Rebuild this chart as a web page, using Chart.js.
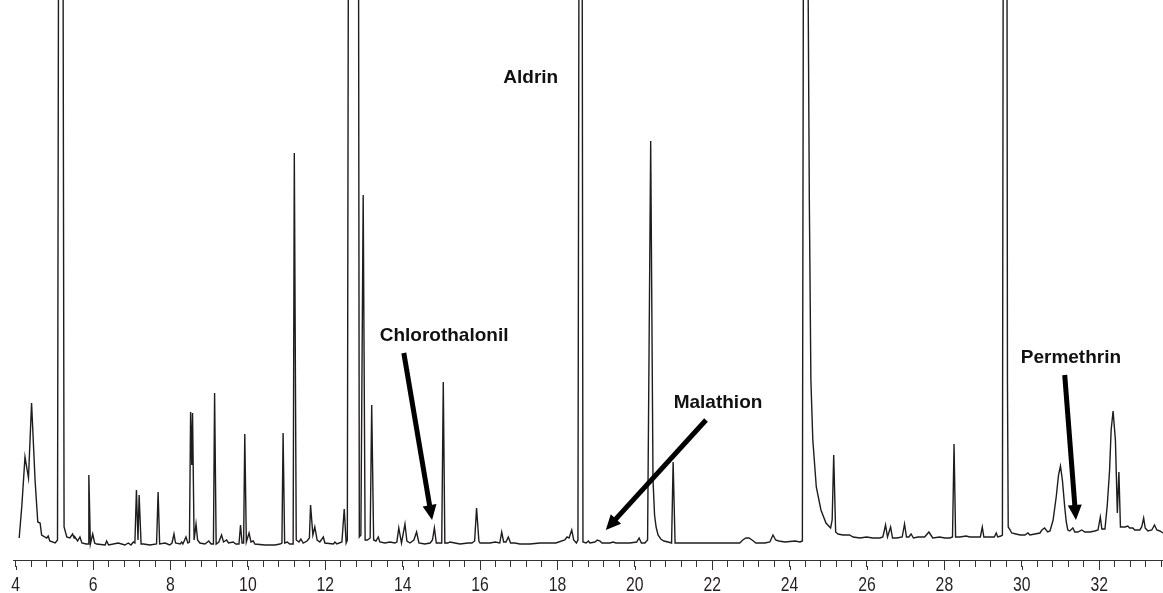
<!DOCTYPE html>
<html>
<head>
<meta charset="utf-8">
<script src="https://cdn.jsdelivr.net/npm/chart.js@4.4.1/dist/chart.umd.min.js"></script>
<style>
  html, body { margin: 0; padding: 0; background: #ffffff; }
  #wrap { width: 1163px; height: 593px; }
</style>
</head>
<body>
<div id="wrap"><canvas id="c" width="1163" height="593"></canvas></div>
<script>
// Retention time (min)
const times = [
  4.09,4.16,4.24,4.33,4.41,4.50,4.57,4.63,4.67,4.80,4.84,4.88,5.02,5.08,5.12,5.21,5.25,5.32,5.40,5.47,
  5.51,5.53,5.60,5.66,5.71,5.82,5.87,5.89,5.93,5.99,6.04,6.09,6.31,6.35,6.40,6.65,6.82,6.91,6.98,7.04,
  7.08,7.12,7.16,7.19,7.24,7.30,7.47,7.64,7.68,7.72,7.86,7.98,8.04,8.09,8.13,8.25,8.29,8.32,8.40,8.45,
  8.49,8.52,8.55,8.57,8.61,8.66,8.70,8.76,8.89,8.99,9.05,9.11,9.14,9.18,9.25,9.32,9.37,9.45,9.50,9.62,
  9.69,9.77,9.81,9.85,9.89,9.92,9.96,10.03,10.08,10.14,10.18,10.44,10.70,10.83,10.88,10.91,10.95,11.02,11.08,11.17,
  11.20,11.25,11.32,11.37,11.43,11.53,11.59,11.62,11.68,11.73,11.79,11.86,11.95,11.99,12.21,12.25,12.30,12.43,12.49,12.54,
  12.57,12.61,12.85,12.88,12.92,12.98,13.03,13.09,13.16,13.20,13.25,13.31,13.37,13.41,13.54,13.67,13.80,13.85,13.90,13.97,
  14.06,14.11,14.19,14.29,14.36,14.42,14.57,14.71,14.77,14.82,14.87,14.96,15.01,15.05,15.09,15.17,15.22,15.35,15.48,15.69,
  15.79,15.86,15.91,15.97,16.00,16.26,16.39,16.51,16.56,16.61,16.67,16.73,16.79,16.90,17.03,17.29,17.55,17.81,17.96,18.19,
  18.25,18.30,18.37,18.42,18.49,18.53,18.57,18.63,18.66,18.74,18.80,18.84,18.97,19.03,19.10,19.15,19.36,19.44,19.51,19.62,
  19.87,20.05,20.11,20.17,20.26,20.33,20.41,20.47,20.51,20.55,20.60,20.67,20.75,20.86,20.95,20.99,21.04,21.17,21.42,21.68,
  22.19,22.71,22.79,22.87,22.95,23.03,23.13,23.36,23.49,23.57,23.64,23.72,23.88,24.14,24.27,24.33,24.37,24.43,24.475,24.51,
  24.55,24.60,24.69,24.81,24.94,25.06,25.10,25.14,25.19,25.25,25.38,25.55,25.64,25.82,25.99,26.15,26.33,26.41,26.48,26.53,
  26.61,26.66,26.77,26.91,26.97,27.02,27.08,27.14,27.20,27.32,27.49,27.60,27.70,27.88,28.01,28.14,28.21,28.25,28.29,28.40,
  28.56,28.66,28.81,28.93,28.98,29.02,29.18,29.29,29.34,29.38,29.46,29.50,29.53,29.61,29.63,29.65,29.70,29.74,29.85,29.96,
  30.08,30.16,30.21,30.34,30.47,30.52,30.59,30.67,30.73,30.81,30.89,30.95,31.00,31.05,31.11,31.15,31.19,31.24,31.32,31.37,
  31.45,31.55,31.63,31.76,31.89,31.97,32.03,32.07,32.15,32.21,32.27,32.31,32.36,32.42,32.47,32.51,32.55,32.61,32.67,32.74,
  32.79,32.87,32.92,33.05,33.10,33.15,33.19,33.26,33.36,33.43,33.49,33.57,33.65
];
// Detector response (arbitrary units); off-scale peaks exceed the axis maximum
const signal = [
  22,55,103,82,157,80,38,37,25,22,24,19,17,20,900,900,33,23,22,26,
  22,23,19,23,17,16,16,85,16,26,17,16,15,19,15,17,15,17,15,18,
  17,70,20,65,16,16,15,16,68,16,17,15,17,26,17,16,18,16,23,17,
  18,148,95,147,20,36,20,17,16,19,16,16,167,16,18,25,18,20,17,18,
  16,16,35,17,17,126,18,27,18,19,16,15,15,16,17,127,17,18,16,16,
  407,20,18,21,17,19,22,55,25,33,20,18,23,17,16,18,16,18,51,17,
  20,900,900,23,25,365,20,20,22,155,20,19,23,18,17,18,17,18,32,17,
  36,19,17,20,28,17,16,17,20,32,17,17,17,178,17,17,18,17,16,17,
  17,19,52,19,17,17,18,17,28,18,18,23,17,17,16,16,17,17,17,20,
  23,22,30,20,17,20,900,900,18,17,19,17,18,20,19,17,17,18,17,17,
  17,18,22,17,17,20,419,80,45,33,25,21,19,18,17,98,17,17,17,17,
  17,17,20,22,22,20,17,17,18,25,20,19,18,19,18,19,900,900,600,360,
  180,120,73,50,37,32,40,105,28,26,25,25,23,22,23,22,22,23,35,23,
  33,22,22,23,36,23,23,26,22,23,23,28,22,23,22,22,23,116,23,23,
  24,23,23,23,33,23,23,23,27,23,24,25,900,900,180,33,30,27,26,25,
  25,27,25,26,27,30,32,28,29,40,63,85,94,80,53,38,30,29,32,28,
  28,30,28,28,29,30,43,31,31,55,90,130,149,120,47,88,33,33,33,34,
  32,32,30,30,33,42,32,29,30,35,30,29,27
];
// Axis
const xMin = 3.93, xMax = 33.65;
const yMin = 0, yMax = 560;
const tickStep = 0.4;
const majorTicks = [4,6,8,10,12,14,16,18,20,22,24,26,28,30,32];
// Compound labels and arrows (data coordinates)
const labelTexts = ['Aldrin', 'Chlorothalonil', 'Malathion', 'Permethrin'];
const labelTimes = [17.31, 15.07, 22.15, 31.27];
const labelLevels = [477, 219, 152, 197];
const arrowFrom = [[14.03, 207], [21.84, 140], [31.11, 185]];
const arrowTo = [[14.76, 40], [19.25, 30], [31.40, 40]];

const points = times.map((t, i) => ({ x: t, y: signal[i] }));

const overlay = {
  id: 'overlay',
  afterDraw(chart) {
    const { ctx } = chart;
    const xs = chart.scales.x, ys = chart.scales.y;
    ctx.save();
    // longer major ticks and condensed tick labels
    ctx.strokeStyle = '#333';
    ctx.lineWidth = 1;
    majorTicks.forEach(v => {
      const px = Math.round(xs.getPixelForValue(v)) + 0.5;
      ctx.beginPath();
      ctx.moveTo(px, xs.top + 6);
      ctx.lineTo(px, xs.top + 10);
      ctx.stroke();
      ctx.save();
      ctx.translate(xs.getPixelForValue(v), xs.top + 31);
      ctx.scale(0.75, 1);
      ctx.fillStyle = '#231f20';
      ctx.font = '21px "Liberation Sans", Arial, sans-serif';
      ctx.textAlign = 'center';
      ctx.textBaseline = 'alphabetic';
      ctx.fillText(String(v), 0, 0);
      ctx.restore();
    });
    // labels
    ctx.fillStyle = '#111';
    ctx.font = 'bold 19px "Liberation Sans", Arial, sans-serif';
    ctx.textAlign = 'center';
    ctx.textBaseline = 'alphabetic';
    labelTexts.forEach((txt, i) => {
      ctx.fillText(txt, xs.getPixelForValue(labelTimes[i]), ys.getPixelForValue(labelLevels[i]));
    });
    // arrows
    ctx.strokeStyle = '#000';
    ctx.fillStyle = '#000';
    arrowFrom.forEach((f, i) => {
      const x1 = xs.getPixelForValue(f[0]), y1 = ys.getPixelForValue(f[1]);
      const x2 = xs.getPixelForValue(arrowTo[i][0]), y2 = ys.getPixelForValue(arrowTo[i][1]);
      const dx = x2 - x1, dy = y2 - y1, len = Math.hypot(dx, dy);
      const ux = dx / len, uy = dy / len;
      const headLen = 15, headHalf = 7;
      const bx = x2 - ux * headLen, by = y2 - uy * headLen;
      ctx.lineWidth = 5;
      ctx.lineCap = 'butt';
      ctx.beginPath();
      ctx.moveTo(x1, y1);
      ctx.lineTo(bx + ux * 2, by + uy * 2);
      ctx.stroke();
      ctx.beginPath();
      ctx.moveTo(x2, y2);
      ctx.lineTo(bx - uy * headHalf, by + ux * headHalf);
      ctx.lineTo(bx + uy * headHalf, by - ux * headHalf);
      ctx.closePath();
      ctx.fill();
    });
    ctx.restore();
  }
};

new Chart(document.getElementById('c'), {
  type: 'scatter',
  data: {
    datasets: [{
      data: points,
      showLine: true,
      borderColor: '#1f1c1d',
      borderWidth: 1.4,
      pointRadius: 0,
      tension: 0,
      fill: false
    }]
  },
  options: {
    responsive: false,
    animation: false,
    devicePixelRatio: 1,
    layout: { padding: { left: 13, right: 0, top: 0, bottom: 0 } },
    plugins: { legend: { display: false }, tooltip: { enabled: false } },
    scales: {
      x: {
        type: 'linear',
        min: xMin,
        max: xMax,
        afterFit(scale) { scale.height = 33; },
        border: { display: true, color: '#333', width: 1 },
        grid: { drawOnChartArea: false, drawTicks: true, tickLength: 7, tickColor: '#333', tickWidth: 1 },
        ticks: {
          stepSize: tickStep,
          includeBounds: false,
          autoSkip: false,
          display: false
        }
      },
      y: {
        display: false,
        min: yMin,
        max: yMax
      }
    }
  },
  plugins: [overlay]
});
</script>
</body>
</html>
